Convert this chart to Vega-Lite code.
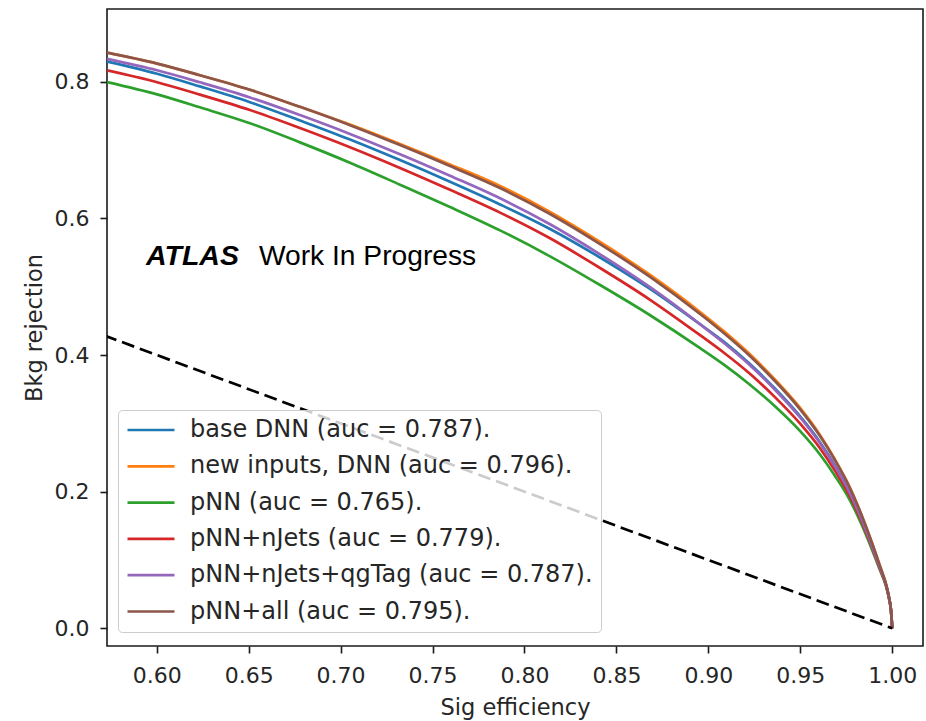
{
  "$schema": "https://vega.github.io/schema/vega-lite/v6.json",
  "width": 816,
  "height": 637,
  "autosize": {"type": "none"},
  "padding": {"left": 107, "top": 9, "right": 3, "bottom": 75},
  "background": "white",
  "config": {
    "font": "DejaVu Sans",
    "view": {"stroke": "#1a1a1a", "strokeWidth": 1.6},
    "axis": {
      "grid": false,
      "domain": false,
      "tickColor": "#1a1a1a",
      "tickWidth": 1.6,
      "tickSize": 7,
      "labelFont": "DejaVu Sans",
      "labelFontSize": 22,
      "labelColor": "#262626",
      "labelFlush": false,
      "labelOverlap": false,
      "titleFont": "DejaVu Sans",
      "titleFontSize": 22.5,
      "titleFontWeight": "normal",
      "titleColor": "#262626"
    }
  },
  "layer": [
    {
      "data": {
        "values": [
          {"model": "base DNN (auc = 0.787).", "s": 0.5730, "r": 0.8295},
          {"model": "base DNN (auc = 0.787).", "s": 0.6002, "r": 0.8117},
          {"model": "base DNN (auc = 0.787).", "s": 0.6235, "r": 0.7931},
          {"model": "base DNN (auc = 0.787).", "s": 0.6507, "r": 0.7700},
          {"model": "base DNN (auc = 0.787).", "s": 0.6779, "r": 0.7432},
          {"model": "base DNN (auc = 0.787).", "s": 0.7051, "r": 0.7154},
          {"model": "base DNN (auc = 0.787).", "s": 0.7323, "r": 0.6853},
          {"model": "base DNN (auc = 0.787).", "s": 0.7595, "r": 0.6536},
          {"model": "base DNN (auc = 0.787).", "s": 0.7867, "r": 0.6204},
          {"model": "base DNN (auc = 0.787).", "s": 0.8139, "r": 0.5845},
          {"model": "base DNN (auc = 0.787).", "s": 0.8411, "r": 0.5427},
          {"model": "base DNN (auc = 0.787).", "s": 0.8683, "r": 0.4968},
          {"model": "base DNN (auc = 0.787).", "s": 0.8955, "r": 0.4450},
          {"model": "base DNN (auc = 0.787).", "s": 0.9090, "r": 0.4182},
          {"model": "base DNN (auc = 0.787).", "s": 0.9226, "r": 0.3867},
          {"model": "base DNN (auc = 0.787).", "s": 0.9362, "r": 0.3509},
          {"model": "base DNN (auc = 0.787).", "s": 0.9498, "r": 0.3104},
          {"model": "base DNN (auc = 0.787).", "s": 0.9607, "r": 0.2724},
          {"model": "base DNN (auc = 0.787).", "s": 0.9688, "r": 0.2383},
          {"model": "base DNN (auc = 0.787).", "s": 0.9770, "r": 0.1988},
          {"model": "base DNN (auc = 0.787).", "s": 0.9835, "r": 0.1591},
          {"model": "base DNN (auc = 0.787).", "s": 0.9890, "r": 0.1210},
          {"model": "base DNN (auc = 0.787).", "s": 0.9933, "r": 0.0885},
          {"model": "base DNN (auc = 0.787).", "s": 0.9966, "r": 0.0634},
          {"model": "base DNN (auc = 0.787).", "s": 0.9982, "r": 0.0451},
          {"model": "base DNN (auc = 0.787).", "s": 0.9993, "r": 0.0265},
          {"model": "base DNN (auc = 0.787).", "s": 1.0000, "r": 0.0},

          {"model": "new inputs, DNN (auc = 0.796).", "s": 0.5730, "r": 0.8425},
          {"model": "new inputs, DNN (auc = 0.796).", "s": 0.6002, "r": 0.8265},
          {"model": "new inputs, DNN (auc = 0.796).", "s": 0.6235, "r": 0.8095},
          {"model": "new inputs, DNN (auc = 0.796).", "s": 0.6507, "r": 0.7882},
          {"model": "new inputs, DNN (auc = 0.796).", "s": 0.6779, "r": 0.7632},
          {"model": "new inputs, DNN (auc = 0.796).", "s": 0.7051, "r": 0.7372},
          {"model": "new inputs, DNN (auc = 0.796).", "s": 0.7323, "r": 0.7088},
          {"model": "new inputs, DNN (auc = 0.796).", "s": 0.7595, "r": 0.6789},
          {"model": "new inputs, DNN (auc = 0.796).", "s": 0.7867, "r": 0.6474},
          {"model": "new inputs, DNN (auc = 0.796).", "s": 0.8139, "r": 0.6094},
          {"model": "new inputs, DNN (auc = 0.796).", "s": 0.8411, "r": 0.5654},
          {"model": "new inputs, DNN (auc = 0.796).", "s": 0.8683, "r": 0.5172},
          {"model": "new inputs, DNN (auc = 0.796).", "s": 0.8955, "r": 0.4630},
          {"model": "new inputs, DNN (auc = 0.796).", "s": 0.9090, "r": 0.4335},
          {"model": "new inputs, DNN (auc = 0.796).", "s": 0.9226, "r": 0.4010},
          {"model": "new inputs, DNN (auc = 0.796).", "s": 0.9362, "r": 0.3642},
          {"model": "new inputs, DNN (auc = 0.796).", "s": 0.9498, "r": 0.3229},
          {"model": "new inputs, DNN (auc = 0.796).", "s": 0.9607, "r": 0.2829},
          {"model": "new inputs, DNN (auc = 0.796).", "s": 0.9688, "r": 0.2474},
          {"model": "new inputs, DNN (auc = 0.796).", "s": 0.9770, "r": 0.2057},
          {"model": "new inputs, DNN (auc = 0.796).", "s": 0.9835, "r": 0.1644},
          {"model": "new inputs, DNN (auc = 0.796).", "s": 0.9890, "r": 0.1248},
          {"model": "new inputs, DNN (auc = 0.796).", "s": 0.9933, "r": 0.0912},
          {"model": "new inputs, DNN (auc = 0.796).", "s": 0.9966, "r": 0.0648},
          {"model": "new inputs, DNN (auc = 0.796).", "s": 0.9982, "r": 0.0458},
          {"model": "new inputs, DNN (auc = 0.796).", "s": 0.9993, "r": 0.0268},
          {"model": "new inputs, DNN (auc = 0.796).", "s": 1.0000, "r": 0.0},

          {"model": "pNN (auc = 0.765).", "s": 0.5730, "r": 0.7995},
          {"model": "pNN (auc = 0.765).", "s": 0.6002, "r": 0.7815},
          {"model": "pNN (auc = 0.765).", "s": 0.6235, "r": 0.7625},
          {"model": "pNN (auc = 0.765).", "s": 0.6507, "r": 0.7392},
          {"model": "pNN (auc = 0.765).", "s": 0.6779, "r": 0.7112},
          {"model": "pNN (auc = 0.765).", "s": 0.7051, "r": 0.6814},
          {"model": "pNN (auc = 0.765).", "s": 0.7323, "r": 0.6493},
          {"model": "pNN (auc = 0.765).", "s": 0.7595, "r": 0.6166},
          {"model": "pNN (auc = 0.765).", "s": 0.7867, "r": 0.5824},
          {"model": "pNN (auc = 0.765).", "s": 0.8139, "r": 0.5444},
          {"model": "pNN (auc = 0.765).", "s": 0.8411, "r": 0.5024},
          {"model": "pNN (auc = 0.765).", "s": 0.8683, "r": 0.4582},
          {"model": "pNN (auc = 0.765).", "s": 0.8955, "r": 0.4100},
          {"model": "pNN (auc = 0.765).", "s": 0.9090, "r": 0.3847},
          {"model": "pNN (auc = 0.765).", "s": 0.9226, "r": 0.3565},
          {"model": "pNN (auc = 0.765).", "s": 0.9362, "r": 0.3249},
          {"model": "pNN (auc = 0.765).", "s": 0.9498, "r": 0.2889},
          {"model": "pNN (auc = 0.765).", "s": 0.9607, "r": 0.2544},
          {"model": "pNN (auc = 0.765).", "s": 0.9688, "r": 0.2233},
          {"model": "pNN (auc = 0.765).", "s": 0.9770, "r": 0.1874},
          {"model": "pNN (auc = 0.765).", "s": 0.9835, "r": 0.1508},
          {"model": "pNN (auc = 0.765).", "s": 0.9890, "r": 0.1151},
          {"model": "pNN (auc = 0.765).", "s": 0.9933, "r": 0.0852},
          {"model": "pNN (auc = 0.765).", "s": 0.9966, "r": 0.0618},
          {"model": "pNN (auc = 0.765).", "s": 0.9982, "r": 0.0442},
          {"model": "pNN (auc = 0.765).", "s": 0.9993, "r": 0.0262},
          {"model": "pNN (auc = 0.765).", "s": 1.0000, "r": 0.0},

          {"model": "pNN+nJets (auc = 0.779).", "s": 0.5730, "r": 0.8165},
          {"model": "pNN+nJets (auc = 0.779).", "s": 0.6002, "r": 0.7992},
          {"model": "pNN+nJets (auc = 0.779).", "s": 0.6235, "r": 0.7811},
          {"model": "pNN+nJets (auc = 0.779).", "s": 0.6507, "r": 0.7585},
          {"model": "pNN+nJets (auc = 0.779).", "s": 0.6779, "r": 0.7322},
          {"model": "pNN+nJets (auc = 0.779).", "s": 0.7051, "r": 0.7041},
          {"model": "pNN+nJets (auc = 0.779).", "s": 0.7323, "r": 0.6738},
          {"model": "pNN+nJets (auc = 0.779).", "s": 0.7595, "r": 0.6418},
          {"model": "pNN+nJets (auc = 0.779).", "s": 0.7867, "r": 0.6084},
          {"model": "pNN+nJets (auc = 0.779).", "s": 0.8139, "r": 0.5708},
          {"model": "pNN+nJets (auc = 0.779).", "s": 0.8411, "r": 0.5273},
          {"model": "pNN+nJets (auc = 0.779).", "s": 0.8683, "r": 0.4808},
          {"model": "pNN+nJets (auc = 0.779).", "s": 0.8955, "r": 0.4290},
          {"model": "pNN+nJets (auc = 0.779).", "s": 0.9090, "r": 0.4022},
          {"model": "pNN+nJets (auc = 0.779).", "s": 0.9226, "r": 0.3725},
          {"model": "pNN+nJets (auc = 0.779).", "s": 0.9362, "r": 0.3384},
          {"model": "pNN+nJets (auc = 0.779).", "s": 0.9498, "r": 0.2999},
          {"model": "pNN+nJets (auc = 0.779).", "s": 0.9607, "r": 0.2636},
          {"model": "pNN+nJets (auc = 0.779).", "s": 0.9688, "r": 0.2309},
          {"model": "pNN+nJets (auc = 0.779).", "s": 0.9770, "r": 0.1932},
          {"model": "pNN+nJets (auc = 0.779).", "s": 0.9835, "r": 0.1551},
          {"model": "pNN+nJets (auc = 0.779).", "s": 0.9890, "r": 0.1183},
          {"model": "pNN+nJets (auc = 0.779).", "s": 0.9933, "r": 0.0872},
          {"model": "pNN+nJets (auc = 0.779).", "s": 0.9966, "r": 0.0628},
          {"model": "pNN+nJets (auc = 0.779).", "s": 0.9982, "r": 0.0447},
          {"model": "pNN+nJets (auc = 0.779).", "s": 0.9993, "r": 0.0264},
          {"model": "pNN+nJets (auc = 0.779).", "s": 1.0000, "r": 0.0},

          {"model": "pNN+nJets+qgTag (auc = 0.787).", "s": 0.5730, "r": 0.8335},
          {"model": "pNN+nJets+qgTag (auc = 0.787).", "s": 0.6002, "r": 0.8167},
          {"model": "pNN+nJets+qgTag (auc = 0.787).", "s": 0.6235, "r": 0.7991},
          {"model": "pNN+nJets+qgTag (auc = 0.787).", "s": 0.6507, "r": 0.7770},
          {"model": "pNN+nJets+qgTag (auc = 0.787).", "s": 0.6779, "r": 0.7512},
          {"model": "pNN+nJets+qgTag (auc = 0.787).", "s": 0.7051, "r": 0.7236},
          {"model": "pNN+nJets+qgTag (auc = 0.787).", "s": 0.7323, "r": 0.6938},
          {"model": "pNN+nJets+qgTag (auc = 0.787).", "s": 0.7595, "r": 0.6623},
          {"model": "pNN+nJets+qgTag (auc = 0.787).", "s": 0.7867, "r": 0.6294},
          {"model": "pNN+nJets+qgTag (auc = 0.787).", "s": 0.8139, "r": 0.5914},
          {"model": "pNN+nJets+qgTag (auc = 0.787).", "s": 0.8411, "r": 0.5474},
          {"model": "pNN+nJets+qgTag (auc = 0.787).", "s": 0.8683, "r": 0.4992},
          {"model": "pNN+nJets+qgTag (auc = 0.787).", "s": 0.8955, "r": 0.4450},
          {"model": "pNN+nJets+qgTag (auc = 0.787).", "s": 0.9090, "r": 0.4164},
          {"model": "pNN+nJets+qgTag (auc = 0.787).", "s": 0.9226, "r": 0.3850},
          {"model": "pNN+nJets+qgTag (auc = 0.787).", "s": 0.9362, "r": 0.3491},
          {"model": "pNN+nJets+qgTag (auc = 0.787).", "s": 0.9498, "r": 0.3089},
          {"model": "pNN+nJets+qgTag (auc = 0.787).", "s": 0.9607, "r": 0.2710},
          {"model": "pNN+nJets+qgTag (auc = 0.787).", "s": 0.9688, "r": 0.2371},
          {"model": "pNN+nJets+qgTag (auc = 0.787).", "s": 0.9770, "r": 0.1978},
          {"model": "pNN+nJets+qgTag (auc = 0.787).", "s": 0.9835, "r": 0.1584},
          {"model": "pNN+nJets+qgTag (auc = 0.787).", "s": 0.9890, "r": 0.1205},
          {"model": "pNN+nJets+qgTag (auc = 0.787).", "s": 0.9933, "r": 0.0885},
          {"model": "pNN+nJets+qgTag (auc = 0.787).", "s": 0.9966, "r": 0.0634},
          {"model": "pNN+nJets+qgTag (auc = 0.787).", "s": 0.9982, "r": 0.0451},
          {"model": "pNN+nJets+qgTag (auc = 0.787).", "s": 0.9993, "r": 0.0265},
          {"model": "pNN+nJets+qgTag (auc = 0.787).", "s": 1.0000, "r": 0.0},

          {"model": "pNN+all (auc = 0.795).", "s": 0.5730, "r": 0.8425},
          {"model": "pNN+all (auc = 0.795).", "s": 0.6002, "r": 0.8265},
          {"model": "pNN+all (auc = 0.795).", "s": 0.6235, "r": 0.8095},
          {"model": "pNN+all (auc = 0.795).", "s": 0.6507, "r": 0.7882},
          {"model": "pNN+all (auc = 0.795).", "s": 0.6779, "r": 0.7632},
          {"model": "pNN+all (auc = 0.795).", "s": 0.7051, "r": 0.7364},
          {"model": "pNN+all (auc = 0.795).", "s": 0.7323, "r": 0.7073},
          {"model": "pNN+all (auc = 0.795).", "s": 0.7595, "r": 0.6766},
          {"model": "pNN+all (auc = 0.795).", "s": 0.7867, "r": 0.6444},
          {"model": "pNN+all (auc = 0.795).", "s": 0.8139, "r": 0.6064},
          {"model": "pNN+all (auc = 0.795).", "s": 0.8411, "r": 0.5624},
          {"model": "pNN+all (auc = 0.795).", "s": 0.8683, "r": 0.5142},
          {"model": "pNN+all (auc = 0.795).", "s": 0.8955, "r": 0.4600},
          {"model": "pNN+all (auc = 0.795).", "s": 0.9090, "r": 0.4307},
          {"model": "pNN+all (auc = 0.795).", "s": 0.9226, "r": 0.3985},
          {"model": "pNN+all (auc = 0.795).", "s": 0.9362, "r": 0.3619},
          {"model": "pNN+all (auc = 0.795).", "s": 0.9498, "r": 0.3209},
          {"model": "pNN+all (auc = 0.795).", "s": 0.9607, "r": 0.2814},
          {"model": "pNN+all (auc = 0.795).", "s": 0.9688, "r": 0.2463},
          {"model": "pNN+all (auc = 0.795).", "s": 0.9770, "r": 0.2054},
          {"model": "pNN+all (auc = 0.795).", "s": 0.9835, "r": 0.1644},
          {"model": "pNN+all (auc = 0.795).", "s": 0.9890, "r": 0.1248},
          {"model": "pNN+all (auc = 0.795).", "s": 0.9933, "r": 0.0912},
          {"model": "pNN+all (auc = 0.795).", "s": 0.9966, "r": 0.0648},
          {"model": "pNN+all (auc = 0.795).", "s": 0.9982, "r": 0.0458},
          {"model": "pNN+all (auc = 0.795).", "s": 0.9993, "r": 0.0268},
          {"model": "pNN+all (auc = 0.795).", "s": 1.0000, "r": 0.0}
        ]
      },
      "mark": {"type": "line", "strokeWidth": 2.7, "interpolate": "monotone", "clip": true},
      "encoding": {
        "x": {
          "field": "s",
          "type": "quantitative",
          "scale": {"domain": [0.57297, 1.01672], "nice": false, "zero": false},
          "axis": {
            "title": "Sig efficiency",
            "values": [0.6, 0.65, 0.7, 0.75, 0.8, 0.85, 0.9, 0.95, 1.0],
            "format": ".2f",
            "labelPadding": 12,
            "titlePadding": 10
          }
        },
        "y": {
          "field": "r",
          "type": "quantitative",
          "scale": {"domain": [-0.0259, 0.9064], "nice": false, "zero": false},
          "axis": {
            "title": "Bkg rejection",
            "values": [0, 0.2, 0.4, 0.6, 0.8],
            "format": ".1f",
            "labelPadding": 11,
            "titlePadding": 8
          }
        },
        "color": {
          "field": "model",
          "type": "nominal",
          "scale": {
            "domain": [
              "base DNN (auc = 0.787).",
              "new inputs, DNN (auc = 0.796).",
              "pNN (auc = 0.765).",
              "pNN+nJets (auc = 0.779).",
              "pNN+nJets+qgTag (auc = 0.787).",
              "pNN+all (auc = 0.795)."
            ],
            "range": ["#1f77b4", "#ff7f0e", "#2ca02c", "#d62728", "#9467bd", "#8c564b"]
          },
          "legend": {
            "title": null,
            "orient": "none",
            "legendX": 11,
            "legendY": 401,
            "symbolType": "stroke",
            "symbolSize": 2209,
            "symbolStrokeWidth": 2.7,
            "labelFont": "DejaVu Sans",
            "labelFontSize": 24,
            "labelColor": "#262626",
            "labelLimit": 800,
            "labelOffset": 14,
            "rowPadding": 12.3,
            "clipHeight": 24,
            "padding": 8,
            "fillColor": "rgba(255,255,255,0.8)",
            "strokeColor": "#cccccc",
            "cornerRadius": 4
          }
        }
      }
    },
    {
      "data": {"values": [{"s": 0, "r": 1}, {"s": 1, "r": 0}]},
      "mark": {"type": "line", "color": "black", "strokeWidth": 2.7, "strokeDash": [13, 6], "clip": true},
      "encoding": {
        "x": {"field": "s", "type": "quantitative"},
        "y": {"field": "r", "type": "quantitative"}
      }
    },
    {
      "data": {"values": [{"label": "ATLAS"}]},
      "mark": {"type": "text", "align": "left", "baseline": "alphabetic", "font": "Liberation Sans", "fontSize": 28.5, "fontStyle": "italic", "fontWeight": "bold", "color": "black"},
      "encoding": {
        "x": {"datum": 0.5942},
        "y": {"datum": 0.5317},
        "text": {"field": "label"}
      }
    },
    {
      "data": {"values": [{"label": "Work In Progress"}]},
      "mark": {"type": "text", "align": "left", "baseline": "alphabetic", "font": "Liberation Sans", "fontSize": 28.2, "color": "black"},
      "encoding": {
        "x": {"datum": 0.6556},
        "y": {"datum": 0.5317},
        "text": {"field": "label"}
      }
    }
  ]
}
